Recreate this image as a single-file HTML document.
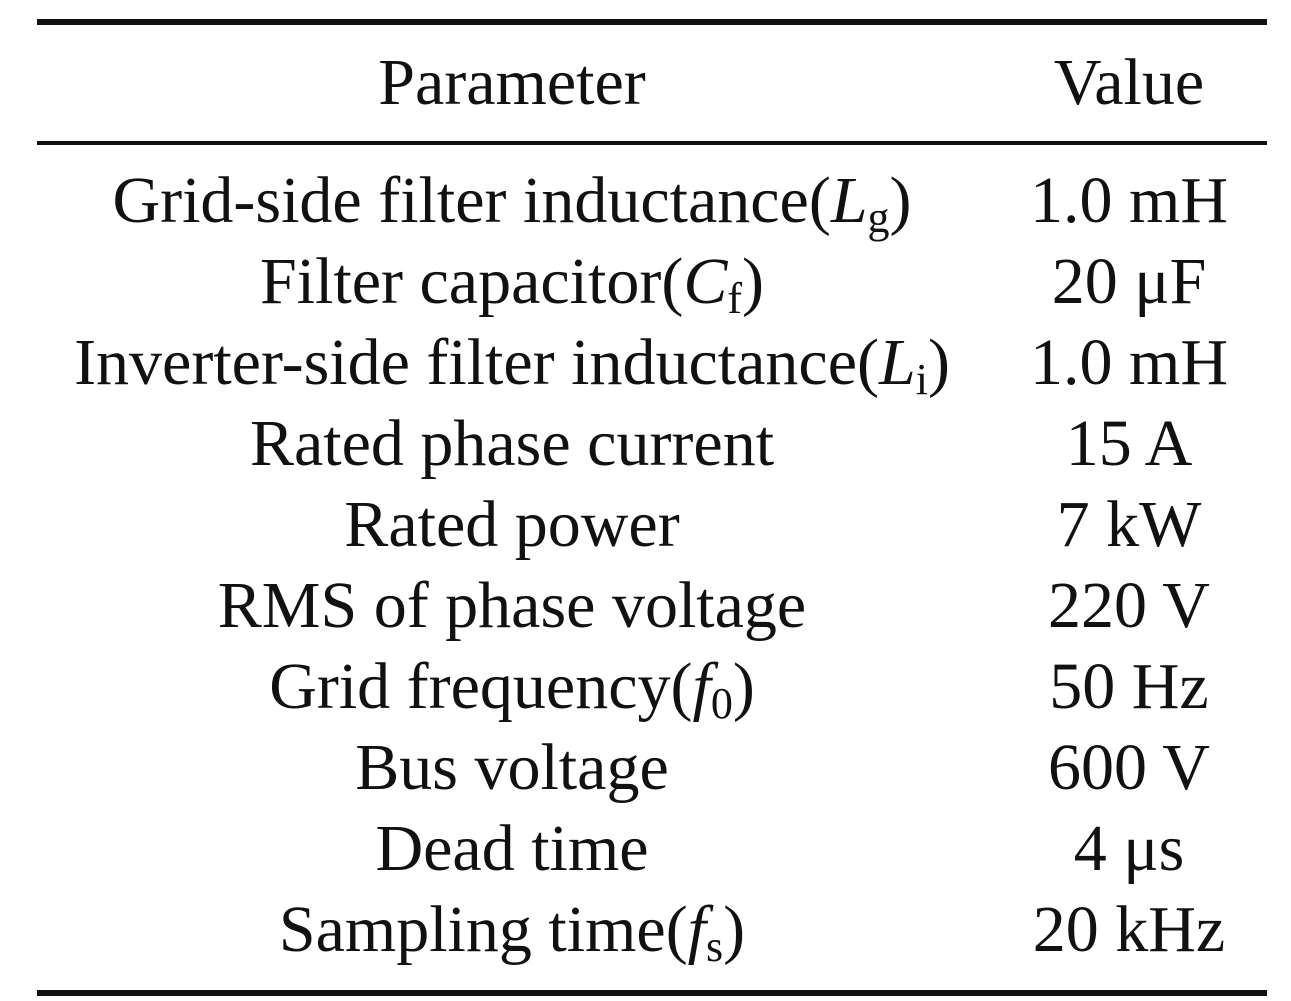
<!DOCTYPE html>
<html><head><style>
html,body{margin:0;padding:0;background:#fff;}
svg{display:block;}
text{font-family:"Liberation Serif",serif;font-size:66px;fill:#111;}
</style></head><body>
<svg width="1291" height="1001" viewBox="0 0 1291 1001">
<rect x="37" y="19" width="1230" height="6" fill="#111"/>
<rect x="37" y="141" width="1230" height="4" fill="#111"/>
<rect x="37" y="990" width="1230" height="6" fill="#111"/>
<g text-anchor="middle">
<text x="512" y="104">Parameter</text>
<text x="1129" y="104">Value</text>
<text x="512" y="222">Grid-side filter inductance(<tspan font-style="italic">L</tspan><tspan font-size="44" dy="10">g</tspan><tspan dy="-10">)</tspan></text>
<text x="1129" y="222">1.0 mH</text>
<text x="512" y="303">Filter capacitor(<tspan font-style="italic">C</tspan><tspan font-size="44" dy="10">f</tspan><tspan dy="-10">)</tspan></text>
<text x="1129" y="303">20 μF</text>
<text x="512" y="384">Inverter-side filter inductance(<tspan font-style="italic">L</tspan><tspan font-size="44" dy="10">i</tspan><tspan dy="-10">)</tspan></text>
<text x="1129" y="384">1.0 mH</text>
<text x="512" y="465">Rated phase current</text>
<text x="1129" y="465">15 A</text>
<text x="512" y="546">Rated power</text>
<text x="1129" y="546">7 kW</text>
<text x="512" y="627">RMS of phase voltage</text>
<text x="1129" y="627">220 V</text>
<text x="512" y="708">Grid frequency(<tspan font-style="italic">f</tspan><tspan font-size="44" dy="10">0</tspan><tspan dy="-10">)</tspan></text>
<text x="1129" y="708">50 Hz</text>
<text x="512" y="789">Bus voltage</text>
<text x="1129" y="789">600 V</text>
<text x="512" y="870">Dead time</text>
<text x="1129" y="870">4 μs</text>
<text x="512" y="951">Sampling time(<tspan font-style="italic">f</tspan><tspan font-size="44" dy="10">s</tspan><tspan dy="-10">)</tspan></text>
<text x="1129" y="951">20 kHz</text>
</g>
</svg>
</body></html>
